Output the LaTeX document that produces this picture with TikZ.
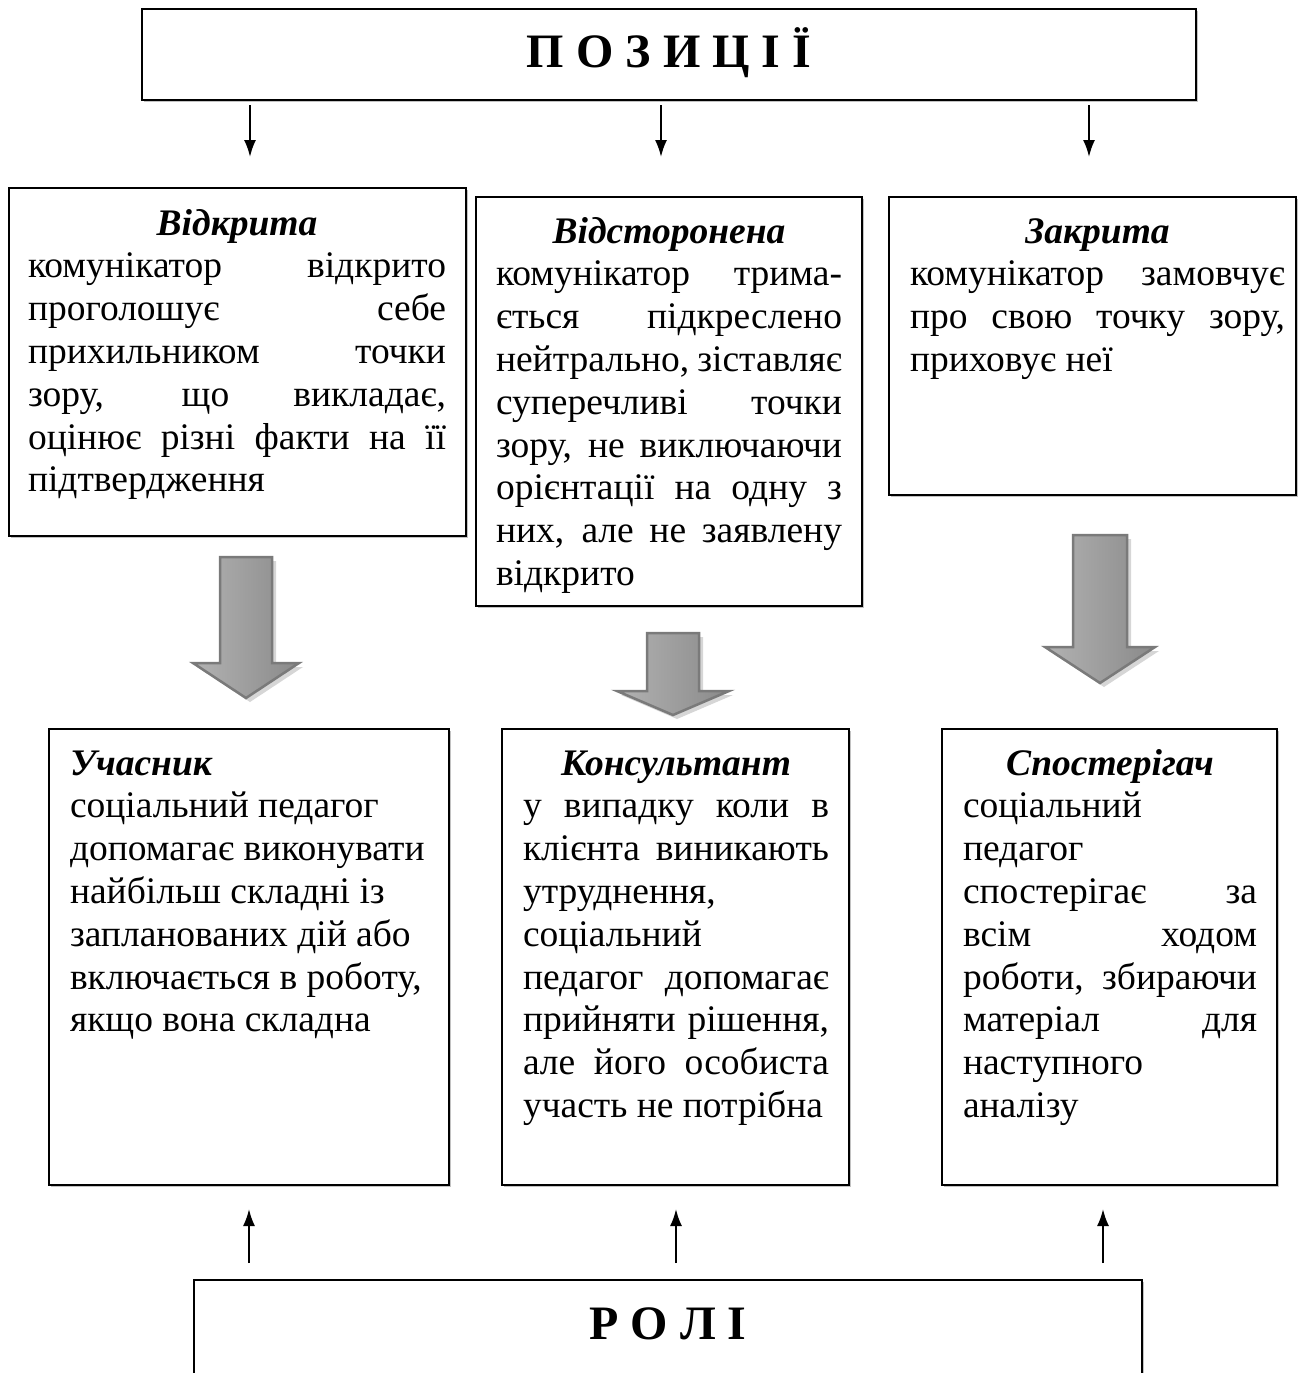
\documentclass[tikz,border=0pt]{standalone}
\usepackage{fontspec}
\setmainfont{Liberation Serif}
\usetikzlibrary{arrows.meta,shadows}
\hbadness=10000 \hfuzz=60pt
\newcommand\LJ[1]{\hbox to\hsize{#1}}
\newcommand\LL[1]{\hbox to\hsize{#1\hfil}}
\newcommand\LC[1]{\hbox to\hsize{\hfil#1\hfil}}
\newcommand\TXT[2]{\vtop{\hsize=#1pt\relax\fontsize{37.5}{42.8}\selectfont #2}}
\newcommand\BI[1]{\textbf{\textit{#1}}}
\newcommand\blockarrow[6]{%
  \path[arrowshadow,xshift=4pt,yshift=-4pt] (#1-#5,#2) -- (#1+#5,#2) -- (#1+#5,#3) -- (#1+#6,#3) -- (#1,#4) -- (#1-#6,#3) -- (#1-#5,#3) -- cycle;
  \path[bigarrow] (#1-#5,#2) -- (#1+#5,#2) -- (#1+#5,#3) -- (#1+#6,#3) -- (#1,#4) -- (#1-#6,#3) -- (#1-#5,#3) -- cycle;}
\tikzset{
  box/.style={draw=black, line width=2pt, fill=white, rectangle, inner sep=0pt, outer sep=0pt, anchor=north west,
    drop shadow={shadow xshift=2pt, shadow yshift=-2pt, fill=black!40, opacity=0.6}},
  txt/.style={inner sep=0pt, outer sep=0pt},
  thinarrow/.style={line width=2pt, -{Latex[length=17pt,width=12pt]}},
  bigarrow/.style={draw=black!52, line width=2.5pt, line join=miter, left color=black!30, middle color=black!14, right color=black!46},
  arrowshadow/.style={fill=black!16}
}
\begin{document}
\begin{tikzpicture}[x=1pt,y=-1pt]
\useasboundingbox (0,0) rectangle (1309,1373);
\clip (0,0) rectangle (1309,1373);

% boxes
\node[box, minimum width=1054, minimum height=91] (top) at (142,9) {};
\node[box, minimum width=457, minimum height=348] (b1) at (9,188) {};
\node[box, minimum width=386, minimum height=409] (b2) at (476,197) {};
\node[box, minimum width=407, minimum height=298] (b3) at (889,197) {};
\node[box, minimum width=400, minimum height=456] (b4) at (49,729) {};
\node[box, minimum width=347, minimum height=456] (b5) at (502,729) {};
\node[box, minimum width=335, minimum height=456] (b6) at (942,729) {};
\node[box, minimum width=948, minimum height=160] (roli) at (194,1280) {};

% headings
\node[txt, anchor=base] (toptext) at (669,67) {\fontsize{48}{50}\selectfont\bfseries П О З И Ц І Ї};
\node[txt, anchor=base] (rolitext) at (668,1339) {\fontsize{48}{50}\selectfont\bfseries Р О Л І};

% texts
\node[txt, anchor=base west] (t1) at (28,235) {\TXT{418}{%
\LC{\BI{Відкрита}}
\LJ{комунікатор відкрито}
\LJ{проголошує себе}
\LJ{прихильником точки}
\LJ{зору, що викладає,}
\LJ{оцінює різні факти на її}
\LL{підтвердження}}};

\node[txt, anchor=base west] (t2) at (496,243) {\TXT{346}{%
\LC{\BI{Відсторонена}}
\LJ{комунікатор трима-}
\LJ{ється підкреслено}
\LJ{нейтрально, зіставляє}
\LJ{суперечливі точки}
\LJ{зору, не виключаючи}
\LJ{орієнтації на одну з}
\LJ{них, але не заявлену}
\LL{відкрито}}};

\node[txt, anchor=base west] (t3) at (910,243) {\TXT{375}{%
\LC{\BI{Закрита}}
\LJ{комунікатор замовчує}
\LJ{про свою точку зору,}
\LL{приховує неї}}};

\node[txt, anchor=base west] (t4) at (70,775) {\TXT{359}{%
\LL{\BI{Учасник}}
\LL{соціальний педагог}
\LL{допомагає виконувати}
\LL{найбільш складні із}
\LL{запланованих дій або}
\LL{включається в роботу,}
\LL{якщо вона складна}}};

\node[txt, anchor=base west] (t5) at (523,775) {\TXT{306}{%
\LC{\BI{Консультант}}
\LJ{у випадку коли в}
\LJ{клієнта виникають}
\LL{утруднення,}
\LL{соціальний}
\LJ{педагог допомагає}
\LJ{прийняти рішення,}
\LJ{але його особиста}
\LL{участь не потрібна}}};

\node[txt, anchor=base west] (t6) at (963,775) {\TXT{294}{%
\LC{\BI{Спостерігач}}
\LL{соціальний}
\LL{педагог}
\LJ{спостерігає за}
\LJ{всім ходом}
\LJ{роботи, збираючи}
\LJ{матеріал для}
\LL{наступного}
\LL{аналізу}}};

% thin arrows
\coordinate (d1s) at (250,105); \coordinate (d1e) at (250,157);
\coordinate (d2s) at (661,105); \coordinate (d2e) at (661,157);
\coordinate (d3s) at (1089,105); \coordinate (d3e) at (1089,157);
\draw[thinarrow] (d1s) -- (d1e);
\draw[thinarrow] (d2s) -- (d2e);
\draw[thinarrow] (d3s) -- (d3e);
\coordinate (u1s) at (249,1263); \coordinate (u1e) at (249,1209);
\coordinate (u2s) at (676,1263); \coordinate (u2e) at (676,1209);
\coordinate (u3s) at (1103,1263); \coordinate (u3e) at (1103,1209);
\draw[thinarrow] (u1s) -- (u1e);
\draw[thinarrow] (u2s) -- (u2e);
\draw[thinarrow] (u3s) -- (u3e);

% block arrows
\blockarrow{246}{557}{663}{698}{26}{53}
\blockarrow{673}{633}{691}{715}{26}{56}
\blockarrow{1100}{535}{647}{683}{27}{55}
\end{tikzpicture}
\end{document}
